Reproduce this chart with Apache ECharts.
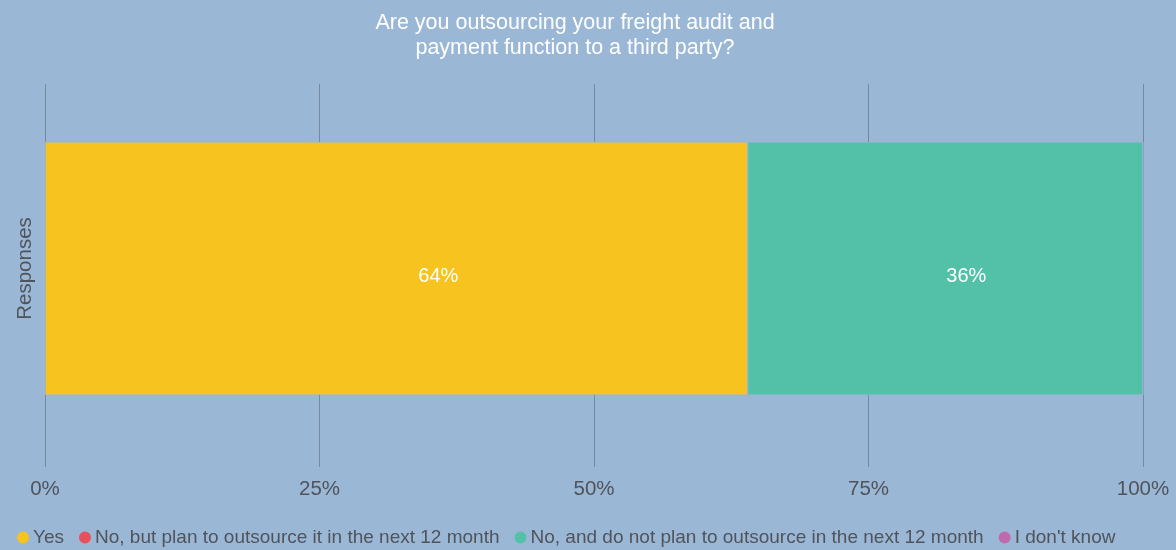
<!DOCTYPE html>
<html>
<head>
<meta charset="utf-8">
<style>
  html, body { margin: 0; padding: 0; background: #9bb7d6; }
  #chart { width: 1176px; height: 550px; }
</style>
<script src="https://cdn.jsdelivr.net/npm/echarts@6/dist/echarts.min.js"></script>
</head>
<body>
<div id="chart"></div>
<script>
// Survey question and answer shares (percent of respondents)
const questionText = 'Are you outsourcing your freight audit and\npayment function to a third party?';
const categories = ['Responses'];
const answerNames = [
  'Yes',
  'No, but plan to outsource it in the next 12 month',
  'No, and do not plan to outsource in the next 12 month',
  "I don't know"
];
const answerValues = [64, 0, 36, 0];
const answerColors = ['#f6c31f', '#e8505b', '#52c1a8', '#c06aae'];
const tickValues = [0, 25, 50, 75, 100];

// Horizontal nudge of each value label inside its segment
const labelShift = [42, 0, 21, 0];

const chart = echarts.init(document.getElementById('chart'));
const fontFamily = '"Liberation Sans", Arial, Helvetica, sans-serif';
const textGrey = '#50545a';

const series = answerNames.map((name, i) => ({
  name: name,
  type: 'bar',
  stack: 'total',
  xAxisIndex: 1,
  yAxisIndex: 1,
  barWidth: 253,
  data: [answerValues[i]],
  itemStyle: { color: answerColors[i], borderColor: '#9bb7d6', borderWidth: 0.6 },
  label: {
    show: answerValues[i] > 0,
    position: 'inside',
    offset: [labelShift[i], 8],
    color: '#ffffff',
    fontSize: 20,
    fontFamily: fontFamily,
    formatter: p => p.value + '%'
  },
  emphasis: { disabled: true }
}));

chart.setOption({
  backgroundColor: '#9bb7d6',
  animation: false,
  // question title, centred over the plot
  graphic: [{
    type: 'text',
    x: 575,
    y: 11,
    silent: true,
    style: {
      text: questionText,
      fill: '#ffffff',
      fontSize: 21.5,
      fontFamily: fontFamily,
      lineHeight: 25,
      align: 'center',
      verticalAlign: 'top'
    }
  }],
  legend: {
    bottom: -2,
    left: 10,
    icon: 'circle',
    itemWidth: 14,
    itemHeight: 14,
    itemGap: 13,
    textStyle: { color: textGrey, fontSize: 19, fontFamily: fontFamily, padding: [0, 0, 0, -2] },
    data: answerNames
  },
  grid: [
    // value scale with gridlines and tick labels
    { left: 45, right: 33, top: 84, bottom: 83, containLabel: false },
    // the stacked bar and its category label
    { left: 45, right: 33, top: 70, bottom: 83, containLabel: false }
  ],
  xAxis: [
    {
      gridIndex: 0,
      type: 'value',
      min: 0,
      max: 100,
      interval: 25,
      axisLine: { show: false },
      axisTick: { show: false },
      splitLine: { show: true, lineStyle: { color: '#77899d', width: 1 } },
      axisLabel: {
        color: textGrey,
        fontSize: 20.5,
        fontFamily: fontFamily,
        margin: 12,
        formatter: v => tickValues.includes(v) ? v + '%' : ''
      }
    },
    {
      gridIndex: 1,
      type: 'value',
      min: 0,
      max: 100,
      show: false
    }
  ],
  yAxis: [
    {
      gridIndex: 0,
      type: 'category',
      data: categories,
      show: false
    },
    {
      gridIndex: 1,
      type: 'category',
      data: categories,
      axisLine: { show: false },
      axisTick: { show: false },
      axisLabel: {
        rotate: 90,
        color: textGrey,
        fontSize: 20.5,
        fontFamily: fontFamily,
        margin: 9
      }
    }
  ],
  series: series
});
</script>
</body>
</html>
